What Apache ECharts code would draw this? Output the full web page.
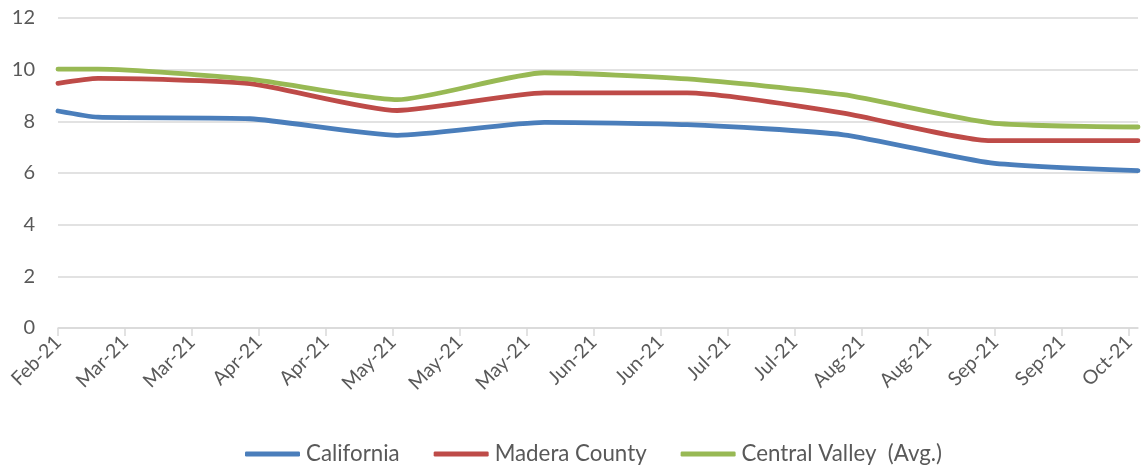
<!DOCTYPE html>
<html>
<head>
<meta charset="utf-8">
<title>California / Madera County / Central Valley</title>
<script src="https://cdn.jsdelivr.net/npm/echarts@6/dist/echarts.min.js"></script>
<style>
  html, body { margin: 0; padding: 0; background: #fff; }
  #chart { width: 1141px; height: 473px; }
</style>
</head>
<body>
<div id="chart"></div>
<script>
// x axis: Excel-style date axis, one major tick every 15 days
const axisStart = '2021-02-15';
const axisEnd = '2021-10-15';
const tickStepDays = 15;
const tickLabels = ['Feb-21', 'Mar-21', 'Mar-21', 'Apr-21', 'Apr-21', 'May-21', 'May-21', 'May-21',
  'Jun-21', 'Jun-21', 'Jul-21', 'Jul-21', 'Aug-21', 'Aug-21', 'Sep-21', 'Sep-21', 'Oct-21'];

// observation dates
const dates = ['2021-02-15', '2021-02-24', '2021-03-30', '2021-05-02', '2021-06-04',
  '2021-07-06', '2021-08-10', '2021-09-12', '2021-10-15'];

// series values
const california = [8.40, 8.16, 8.10, 7.46, 7.96, 7.87, 7.48, 6.39, 6.09];
const madera = [9.47, 9.66, 9.46, 8.42, 9.10, 9.10, 8.32, 7.25, 7.25];
const centralValley = [10.02, 10.02, 9.63, 8.84, 9.88, 9.64, 9.03, 7.94, 7.78];

const yTicks = [0, 2, 4, 6, 8, 10, 12];

const DAY = 86400000;
const dayOf = (s) => (Date.parse(s + 'T00:00:00Z') - Date.parse(axisStart + 'T00:00:00Z')) / DAY;
const xs = dates.map(dayOf);
const tickValues = tickLabels.map((_, i) => i * tickStepDays);

const FONT = 'Lato, "Open Sans", sans-serif';
const TEXT = '#595959';
const GRID = '#d9d9d9';

function mkSeries(name, values, color) {
  return {
    name: name,
    type: 'line',
    data: values.map((v, i) => [xs[i], v]),
    showSymbol: false,
    symbol: 'none',
    smooth: 0.2,
    lineStyle: { width: 4.8, color: color, cap: 'round', join: 'round' },
    itemStyle: { color: color },
    emphasis: { disabled: true }
  };
}

const chart = echarts.init(document.getElementById('chart'));
chart.setOption({
  animation: false,
  grid: { left: 58, right: 3, top: 18, bottom: 145, containLabel: false, outerBoundsMode: 'none' },
  legend: {
    bottom: 3,
    left: 240,
    itemWidth: 55,
    itemHeight: 5,
    itemGap: 34,
    icon: 'roundRect',
    textStyle: { color: TEXT, fontSize: 22.3, fontFamily: FONT, padding: [0, 0, 0, 1] },
    data: ['California', 'Madera County', 'Central Valley  (Avg.)']
  },
  xAxis: {
    type: 'value',
    min: 0,
    max: dayOf(axisEnd),
    splitLine: { show: false },
    axisLine: { show: true, onZero: false, lineStyle: { color: GRID, width: 1.5 } },
    axisTick: { show: true, length: 8, customValues: tickValues, lineStyle: { color: GRID, width: 1.5 } },
    axisLabel: {
      customValues: tickValues,
      rotate: 45,
      margin: 11,
      color: TEXT,
      fontSize: 19.5,
      fontFamily: FONT,
      formatter: (v) => tickLabels[Math.round(v / tickStepDays)] || ''
    }
  },
  yAxis: {
    type: 'value',
    min: 0,
    max: 12,
    interval: 2,
    axisLine: { show: false },
    axisTick: { show: false },
    splitLine: { lineStyle: { color: GRID, width: 1.5 } },
    axisLabel: {
      margin: 23,
      color: TEXT,
      fontSize: 20,
      fontFamily: FONT,
      formatter: (v) => yTicks.includes(v) ? String(v) : ''
    }
  },
  series: [
    mkSeries('California', california, '#4a7ebb'),
    mkSeries('Madera County', madera, '#be4b48'),
    mkSeries('Central Valley  (Avg.)', centralValley, '#98b954')
  ]
});
</script>
</body>
</html>
